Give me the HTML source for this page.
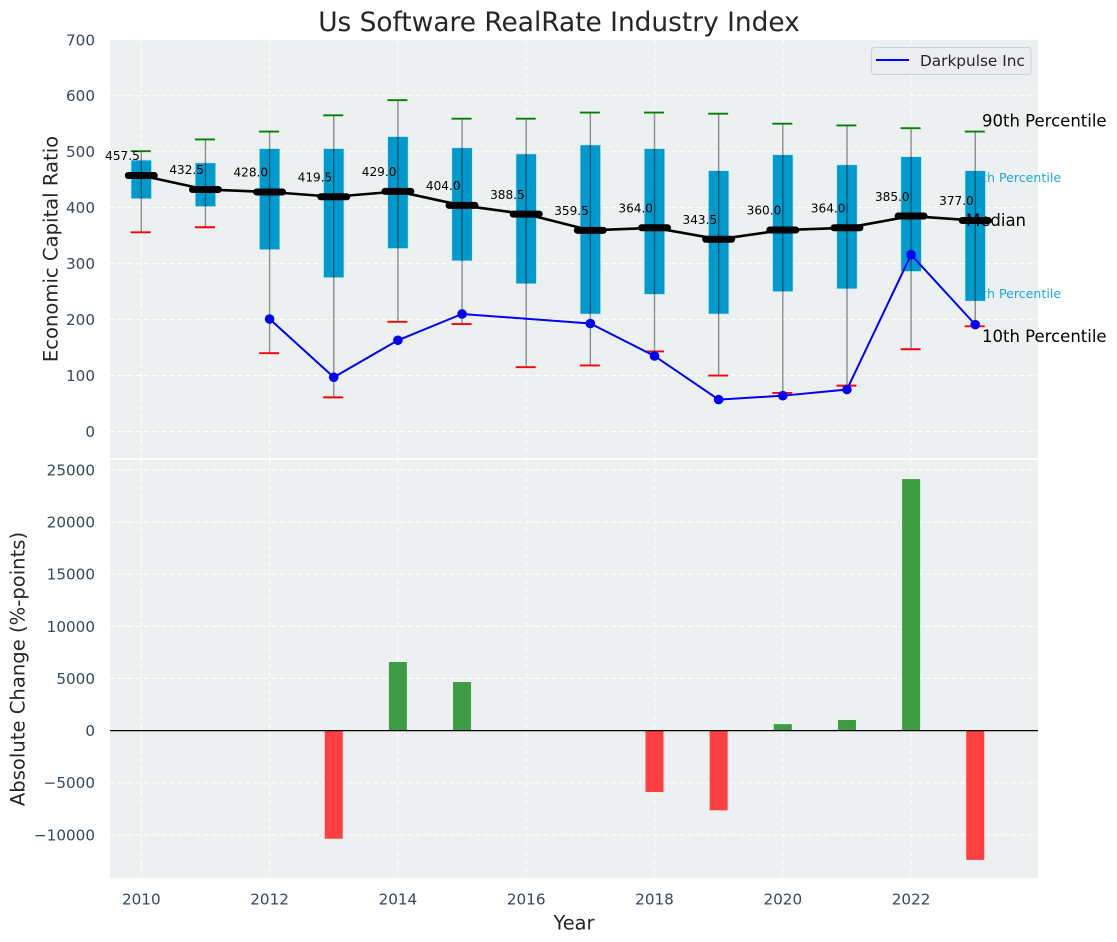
<!DOCTYPE html>
<html lang="en">
<head>
<meta charset="utf-8">
<title>Us Software RealRate Industry Index</title>
<style>
html,body{margin:0;padding:0;background:#fff;}
svg{display:block;font-family:"DejaVu Sans","Liberation Sans",sans-serif;}
</style>
</head>
<body>
<svg id="chart" width="1117" height="942" viewBox="0 0 1117 942" xmlns="http://www.w3.org/2000/svg"></svg>
<script>
const years = [2010,2011,2012,2013,2014,2015,2016,2017,2018,2019,2020,2021,2022,2023];
const medianValues = [457.5,432.5,428,419.5,429,404,388.5,359.5,364,343.5,360,364,385,377];
const q3Values = [485,480,505.5,505.5,527,507,496,512,505.5,466,494.5,476.5,491,466];
const q1Values = [416,402,325,275,327,305,264,210,245,210,250,255,286,233];
const p90Values = [501,522,536,565,592,559,559,570,570,568,550,547,542,536];
const p10Values = [356,365,140,61,196,192,115,118,143,100,69,82,147,188];
const companyValues = [null,null,201,97,163,210,null,193,135,57,64,75,316,191];
const changeValues = [null,null,null,-10370,6580,4660,null,null,-5900,-7650,620,1020,24130,-12400];
const xTickLabels = [2010,2012,2014,2016,2018,2020,2022];
const topYTicks = [0,100,200,300,400,500,600,700];
const bottomYTicks = [-10000,-5000,0,5000,10000,15000,20000,25000];

const svg = document.getElementById('chart');
const NS = 'http://www.w3.org/2000/svg';
const L = 110, R = 1038, T1 = 40, B1 = 458, T2 = 460, B2 = 878;
const x = v => 141.3 + (v - 2010) * 64.15;
const y1 = v => 431.5 - v * 0.5596;
const y2 = v => 730.6 - v * 0.010424;
const INK = '#262626', TICK = '#34495e';

function mk(tag, attrs, text) {
  const el = document.createElementNS(NS, tag);
  for (const k in attrs) el.setAttribute(k, attrs[k]);
  if (text !== undefined) el.textContent = text;
  svg.appendChild(el);
  return el;
}
function named(el, name, interactable) {
  
  
  return el;
}
function seg(x1, y1v, x2, y2v, stroke, w, extra) {
  return mk('line', Object.assign({x1: x1, y1: y1v, x2: x2, y2: y2v, stroke: stroke, 'stroke-width': w}, extra || {}));
}
const grid = {'stroke-dasharray': '5 3.5'};

/* panels */
named(mk('rect', {x: L, y: T1, width: R - L, height: B1 - T1, fill: '#ecf0f1'}), 'top-plot-area', false);
named(mk('rect', {x: L, y: T2, width: R - L, height: B2 - T2, fill: '#ecf0f1'}), 'bottom-plot-area', false);

/* grid + ticks */
xTickLabels.forEach(v => {
  named(seg(x(v), T1, x(v), B1, '#fff', 1, grid), 'top-x-gridline-' + v, false);
  named(seg(x(v), T2, x(v), B2, '#fff', 1, grid), 'bottom-x-gridline-' + v, false);
  named(mk('text', {x: x(v), y: 904.5, 'text-anchor': 'middle', 'font-size': 15.2, fill: TICK}, String(v)), 'x-tick-label-' + v, false);
});
topYTicks.forEach(v => {
  named(seg(L, y1(v), R, y1(v), '#fff', 1, grid), 'top-y-gridline-' + v, false);
  named(mk('text', {x: 95, y: y1(v) + 5.5, 'text-anchor': 'end', 'font-size': 15.2, fill: TICK}, String(v)), 'top-y-tick-label-' + v, false);
});
bottomYTicks.forEach(v => {
  named(seg(L, y2(v), R, y2(v), '#fff', 1, grid), 'bottom-y-gridline-' + v, false);
  const s = v < 0 ? '\u2212' + Math.abs(v) : String(v);
  named(mk('text', {x: 95, y: y2(v) + 5.5, 'text-anchor': 'end', 'font-size': 15.2, fill: TICK}, s), 'bottom-y-tick-label-' + v, false);
});

/* percentile labels placed beneath the boxes */
const last = years.length - 1;
named(mk('text', {x: 966, y: y1(q3Values[last]) + 11.5, 'font-size': 12.6, fill: '#0a9fd6', opacity: 0.9}, '75th Percentile'), 'q3-label', false);
named(mk('text', {x: 966, y: y1(q1Values[last]) - 3, 'font-size': 12.6, fill: '#0a9fd6', opacity: 0.9}, '25th Percentile'), 'q1-label', false);

/* boxes */
years.forEach((yr, i) => {
  const top = y1(q3Values[i]), bot = y1(q1Values[i]);
  named(mk('rect', {x: x(yr) - 10.2, y: top, width: 20.4, height: bot - top, fill: '#0099cc', stroke: '#c4e4ef', 'stroke-width': 0.6}), 'iqr-box-' + yr, false);
});

/* whiskers and caps */
years.forEach((yr, i) => {
  named(seg(x(yr), y1(p90Values[i]), x(yr), y1(p10Values[i]), '#000', 1.4, {'stroke-opacity': 0.42}), 'whisker-' + yr, false);
  named(seg(x(yr) - 10.5, y1(p90Values[i]), x(yr) + 9.5, y1(p90Values[i]), 'green', 1.9), 'p90-cap-' + yr, false);
  named(seg(x(yr) - 10.5, y1(p10Values[i]), x(yr) + 9.5, y1(p10Values[i]), 'red', 1.9), 'p10-cap-' + yr, false);
});

/* median line + markers */
named(mk('polyline', {points: years.map((yr, i) => x(yr) + ',' + y1(medianValues[i])).join(' '), fill: 'none', stroke: '#000', 'stroke-width': 2.6}), 'median-line', false);
years.forEach((yr, i) => {
  named(seg(x(yr) - 13, y1(medianValues[i]), x(yr) + 13, y1(medianValues[i]), '#000', 7, {'stroke-linecap': 'round'}), 'median-marker-' + yr, false);
});

/* company series */
const companyPts = [];
years.forEach((yr, i) => { if (companyValues[i] !== null) companyPts.push(x(yr) + ',' + y1(companyValues[i])); });
named(mk('polyline', {points: companyPts.join(' '), fill: 'none', stroke: '#0000ff', 'stroke-width': 2}), 'darkpulse-line', false);
years.forEach((yr, i) => {
  if (companyValues[i] === null) return;
  named(mk('circle', {cx: x(yr), cy: y1(companyValues[i]), r: 4.8, fill: '#0000ff'}), 'darkpulse-point-' + yr, true);
});

/* median value labels */
years.forEach((yr, i) => {
  named(mk('text', {x: x(yr) - 1.5, y: y1(medianValues[i]) - 15.3, 'text-anchor': 'end', 'font-size': 12.1, fill: '#000'}, medianValues[i].toFixed(1)), 'median-value-' + yr, false);
});

/* percentile labels on top */
named(mk('text', {x: 982, y: y1(p90Values[last]) - 5, 'font-size': 16.5, fill: '#000'}, '90th Percentile'), 'p90-label', false);
named(mk('text', {x: 966, y: y1(medianValues[last]) + 5.5, 'font-size': 16.5, fill: '#000'}, 'Median'), 'median-label', false);
named(mk('text', {x: 982, y: y1(p10Values[last]) + 15.5, 'font-size': 16.5, fill: '#000'}, '10th Percentile'), 'p10-label', false);

/* bars */
years.forEach((yr, i) => {
  const v = changeValues[i];
  if (v === null) return;
  const a = y2(Math.max(v, 0)), b = y2(Math.min(v, 0));
  named(mk('rect', {x: x(yr) - 9, y: a, width: 18, height: b - a, fill: v >= 0 ? 'rgb(60,156,63)' : 'rgb(255,64,64)'}), 'change-bar-' + yr, true);
});
named(seg(L, y2(0), R, y2(0), '#000', 1.3), 'zero-line', false);

/* legend */
named(mk('rect', {x: 871.5, y: 47.5, width: 159.5, height: 27, rx: 3, fill: '#ebecf0', 'fill-opacity': 0.9, stroke: '#d0d0d4', 'stroke-width': 1}), 'legend-box', false);
named(seg(876, 60, 909, 60, '#0000ff', 2), 'legend-line-swatch', false);
named(mk('text', {x: 920, y: 66, 'font-size': 15.3, fill: INK}, 'Darkpulse Inc'), 'legend-label', true);

/* titles */
named(mk('text', {x: 559, y: 31, 'text-anchor': 'middle', 'font-size': 26.4, fill: INK}, 'Us Software RealRate Industry Index'), 'chart-title', false);
named(mk('text', {x: 574, y: 929.5, 'text-anchor': 'middle', 'font-size': 19.4, fill: INK}, 'Year'), 'x-axis-title', false);
named(mk('text', {transform: 'translate(57.5,249) rotate(-90)', 'text-anchor': 'middle', 'font-size': 19.6, fill: INK}, 'Economic Capital Ratio'), 'top-y-axis-title', false);
named(mk('text', {transform: 'translate(24.5,669) rotate(-90)', 'text-anchor': 'middle', 'font-size': 19.6, fill: INK}, 'Absolute Change (%-points)'), 'bottom-y-axis-title', false);
</script>
</body>
</html>
